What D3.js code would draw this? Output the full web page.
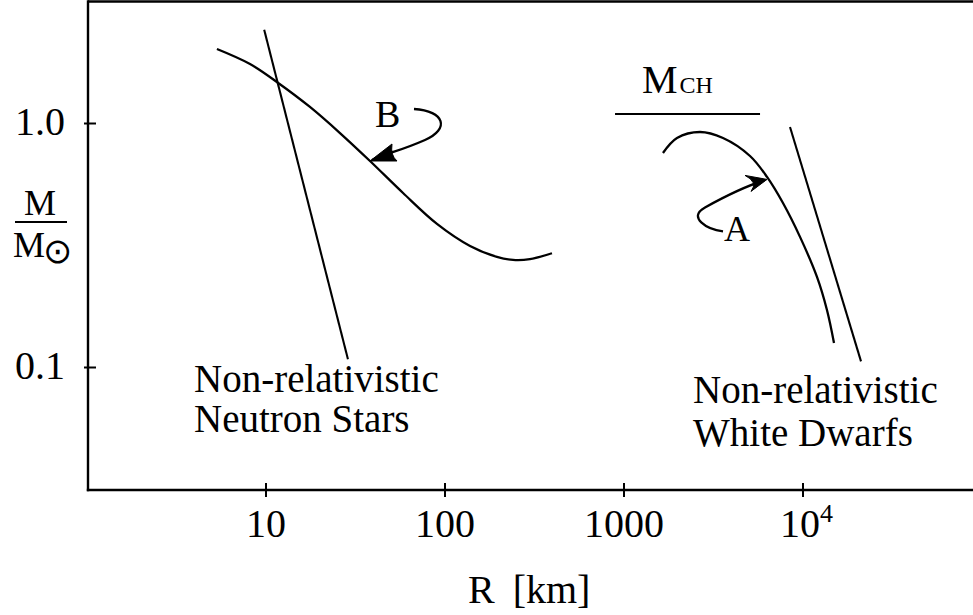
<!DOCTYPE html>
<html>
<head>
<meta charset="utf-8">
<script src="https://cdn.jsdelivr.net/npm/d3@7"></script>
<style>
  html, body { margin: 0; padding: 0; background: #fff; }
  svg { display: block; }
  text { font-family: "Liberation Serif", "Times New Roman", serif; fill: #000; }
</style>
</head>
<body>
<svg id="chart" width="973" height="615"></svg>
<script>
// Mass–radius relation for compact stars (R in km, M in solar masses)
const xTickValues = [10, 100, 1000, 10000];
const xTickLabels = ["10", "100", "1000", "10^4"];
const yTickValues = [1, 0.1];
const yTickLabels = ["1.0", "0.1"];

// Neutron-star branch (curve "B")
const nsRadius = [5.32, 8.14, 11.7, 17.6, 25.9, 38.1, 58.3, 90.2, 138, 195, 240, 298, 396];
const nsMass   = [2.02, 1.753, 1.466, 1.169, 0.914, 0.702, 0.519, 0.388, 0.315, 0.284, 0.276, 0.278, 0.294];

// White-dwarf branch (curve "A")
const wdRadius = [1651, 1977, 2659, 3573, 5058, 6295, 7730, 9622, 11970, 13610, 14900];
const wdMass   = [0.757, 0.872, 0.923, 0.872, 0.736, 0.604, 0.472, 0.343, 0.235, 0.172, 0.126];

// Non-relativistic limits (straight lines in log-log)
const nrNeutronRadius = [9.77, 28.7];
const nrNeutronMass   = [2.42, 0.108];
const nrDwarfRadius   = [8460, 21090];
const nrDwarfMass     = [0.968, 0.106];

// Chandrasekhar mass level
const chandraMass = 1.094;
const chandraRadius = [891, 5754];

// Points the arrows point at
const arrowB = {r: 38.1, m: 0.702};
const arrowA = {r: 6295, m: 0.59};

const svg = d3.select("#chart");
const W = 973;

const x = d3.scaleLog().domain([1, 1e5]).range([87, 87 + 5 * 179]);
const y = d3.scaleLog().domain([Math.pow(10, -1.5), Math.pow(10, 0.5)]).range([489.5, 1.5]);

const x0 = 88, yBottom = 490, yTop = 1.5;

// Frame: top, left, bottom
const frame = svg.append("g").attr("stroke", "#000").attr("stroke-width", 2.4).attr("fill", "none");
frame.append("line").attr("x1", x0).attr("x2", W).attr("y1", yTop).attr("y2", yTop);
frame.append("line").attr("x1", x0).attr("x2", x0).attr("y1", yTop - 1.2).attr("y2", yBottom + 1.2);
frame.append("line").attr("x1", x0 - 1.2).attr("x2", W).attr("y1", yBottom).attr("y2", yBottom);

// X ticks
const xt = svg.append("g");
xTickValues.forEach((v, i) => {
  const px = x(v);
  xt.append("line").attr("x1", px).attr("x2", px).attr("y1", yBottom - 7).attr("y2", yBottom + 7)
    .attr("stroke", "#000").attr("stroke-width", 2);
  const lab = xTickLabels[i];
  const t = xt.append("text").attr("x", px).attr("y", 537).attr("font-size", 40).attr("text-anchor", "middle");
  if (lab.includes("^")) {
    const [base, exp] = lab.split("^");
    t.attr("text-anchor", "start").attr("x", px - 23);
    t.append("tspan").text(base);
    t.append("tspan").attr("font-size", 26).attr("dy", -15).text(exp);
  } else {
    t.text(lab);
  }
});

// Y ticks
const yt = svg.append("g");
yTickValues.forEach((v, i) => {
  const py = y(v);
  yt.append("line").attr("x1", x0 - 4).attr("x2", x0 + 8).attr("y1", py).attr("y2", py)
    .attr("stroke", "#000").attr("stroke-width", 2);
  yt.append("text").attr("x", 65).attr("y", py + 11).attr("font-size", 40).attr("text-anchor", "end")
    .text(yTickLabels[i]);
});

// Axis titles
svg.append("text").attr("x", 468).attr("y", 603).attr("font-size", 40)
  .call(t => { t.append("tspan").text("R"); t.append("tspan").attr("dx", 18).text("[km]"); });

const ylab = svg.append("g");
ylab.append("text").attr("x", 40).attr("y", 215).attr("font-size", 36).attr("text-anchor", "middle").text("M");
ylab.append("line").attr("x1", 15).attr("x2", 67).attr("y1", 222).attr("y2", 222)
  .attr("stroke", "#000").attr("stroke-width", 2);
ylab.append("text").attr("x", 13).attr("y", 257).attr("font-size", 36)
  .call(t => {
    t.append("tspan").text("M");
    t.append("tspan").attr("font-family", "DejaVu Sans").attr("font-size", 35).attr("dx", -2).attr("dy", 6).text("\u2299");
  });

// Curves
const line = d3.line().x(d => x(d[0])).y(d => y(d[1])).curve(d3.curveCatmullRom.alpha(0.5));
const straight = d3.line().x(d => x(d[0])).y(d => y(d[1]));

const curves = svg.append("g").attr("fill", "none").attr("stroke", "#000");
curves.append("path").attr("d", line(d3.zip(nsRadius, nsMass))).attr("stroke-width", 2.3);
curves.append("path").attr("d", line(d3.zip(wdRadius, wdMass))).attr("stroke-width", 2.3);
curves.append("path").attr("d", straight(d3.zip(nrNeutronRadius, nrNeutronMass))).attr("stroke-width", 2.1);
curves.append("path").attr("d", straight(d3.zip(nrDwarfRadius, nrDwarfMass))).attr("stroke-width", 2.1);
curves.append("path").attr("d", straight(chandraRadius.map(r => [r, chandraMass]))).attr("stroke-width", 2.2);

// M_CH label
svg.append("text").attr("x", 642).attr("y", 93).attr("font-size", 40)
  .call(t => { t.append("tspan").text("M"); t.append("tspan").attr("font-size", 24).attr("dx", 2).text("CH"); });

// Curve labels
const labels = svg.append("g").attr("font-size", 39);
labels.append("text").attr("x", 194).attr("y", 392).text("Non-relativistic");
labels.append("text").attr("x", 194).attr("y", 432).text("Neutron Stars");
labels.append("text").attr("x", 693).attr("y", 403).text("Non-relativistic");
labels.append("text").attr("x", 693).attr("y", 446).text("White Dwarfs");

// Arrow helper: curved stem with a barbed head at the tip
function arrow(tipX, tipY, stem, headA, headB) {
  const g = svg.append("g");
  g.append("path").attr("d", stem).attr("fill", "none").attr("stroke", "#000").attr("stroke-width", 2.3);
  g.append("path")
    .attr("d", `M${tipX},${tipY} L${headA[0]},${headA[1]} Q${(tipX + headA[0] + headB[0]) / 3 + 4},${(tipY + headA[1] + headB[1]) / 3} ${headB[0]},${headB[1]} Z`)
    .attr("fill", "#000").attr("stroke", "#000").attr("stroke-width", 1).attr("stroke-linejoin", "round");
}

// B arrow
{
  const tx = x(arrowB.r), ty = y(arrowB.m);
  svg.append("text").attr("x", tx + 5).attr("y", ty - 34).attr("font-size", 38).text("B");
  arrow(tx, ty,
    `M${tx + 44},${ty - 52} C${tx + 75},${ty - 50} ${tx + 80},${ty - 32} ${tx + 55},${ty - 21} S${tx + 20},${ty - 9} ${tx + 2},${ty - 1}`,
    [tx + 22, ty - 17], [tx + 27, ty]);
}

// A arrow
{
  const tx = x(arrowA.r), ty = y(arrowA.m);
  svg.append("text").attr("x", tx - 43).attr("y", ty + 62).attr("font-size", 36).text("A");
  arrow(tx, ty,
    `M${tx - 44},${ty + 52} C${tx - 60},${ty + 50} ${tx - 80},${ty + 38} ${tx - 62},${ty + 28} S${tx - 25},${ty + 8} ${tx - 3},${ty + 1}`,
    [tx - 22, ty - 4], [tx - 16, ty + 12]);
}
</script>
</body>
</html>
